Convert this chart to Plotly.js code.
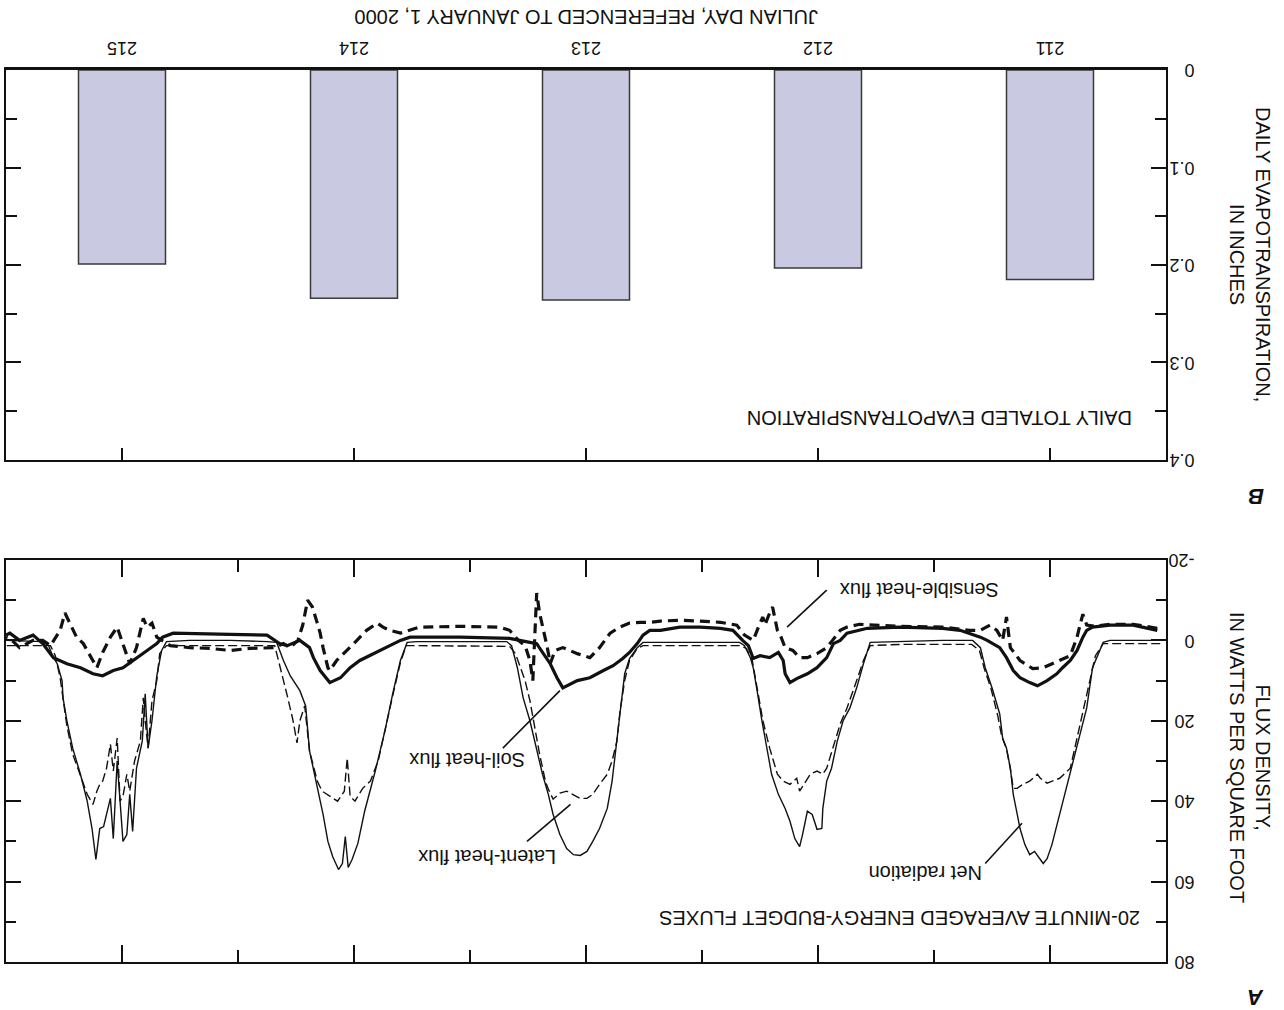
<!DOCTYPE html>
<html><head><meta charset="utf-8">
<script src="https://cdn.plot.ly/plotly-3.0.1.min.js"></script>
<style>html,body{margin:0;padding:0;background:#fff}#chart{width:1284px;height:1010px}</style>
</head><body><div id="chart"></div>
<script>
// ---- Panel B: daily totaled evapotranspiration (inches) ----
const julianDays = [211, 212, 213, 214, 215];
const dayTickText = ['211', '212', '213', '214', '215'];
const dailyET = [0.215, 0.203, 0.236, 0.234, 0.199];
const etTickVals = [0, 0.1, 0.2, 0.3, 0.4];
const etTickText = ['0', '0.1', '0.2', '0.3', '0.4'];
const etMinorVals = [0.05, 0.15, 0.25, 0.35];

// ---- Panel A: 20-minute averaged energy-budget fluxes (W/ft2), time in hours from 00:00 day 211 ----
const hourMajorTicks = [12, 36, 60, 84, 108];
const hourMinorTicks = [24, 48, 72, 96];
const fluxTickVals = [-20, 0, 20, 40, 60, 80];
const fluxTickText = ['-20', '0', '20', '40', '60', '80'];
const fluxMinorVals = [-10, 10, 30, 50, 70];

const netHours = [
  0.6, 3.7, 5.8, 6.5, 7.6, 8.2, 8.9, 9.6, 10.1, 10.7, 11.2, 11.8, 12.3, 12.7, 13.0, 13.6, 14.1, 14.6, 15.1, 15.4, 15.8, 16.1, 16.5, 16.9, 17.2, 18.0, 18.7, 19.2, 20.0, 23.1, 27.5, 30.6,
  31.3, 32.0, 32.7, 33.4, 34.0, 34.6, 35.1, 35.5, 35.6, 36.1, 36.6, 37.1, 37.6, 37.9, 38.4, 38.9, 39.4, 40.1, 40.8, 41.3, 41.8, 42.3, 42.7, 43.0, 43.6, 44.1, 48.2, 52.3, 54.1,
  54.7, 55.5, 56.0, 56.3, 56.7, 57.0, 57.3, 57.8, 58.6, 59.3, 59.9, 60.6, 61.3, 62.0, 62.7, 63.4, 63.9, 64.5, 65.1, 65.8, 66.5, 67.1, 67.7, 68.2, 73.0, 77.5,
  78.5, 79.2, 80.0, 80.8, 81.8, 82.9, 83.6, 84.2, 84.6, 84.9, 85.2, 85.6, 86.2, 86.7, 87.2, 87.8, 88.6, 89.0, 89.6, 90.6, 91.3, 92.0, 93.0, 96.8, 101.0, 103.4,
  103.9, 104.4, 104.9, 105.3, 105.6, 105.9, 106.5, 106.9, 107.2, 107.5, 107.9, 108.2, 108.5, 108.9, 109.2, 109.6, 109.9, 110.3, 110.7, 111.1, 111.6, 112.3, 113.1, 113.7, 114.1, 114.2, 114.7, 115.1, 115.6, 116.2, 118.6, 120.0
];
const netRadiation = [
  0, 0, 0, 0.5, 6.8, 16.8, 23.3, 30, 35, 40, 45, 50.8, 54.3, 55.5, 54.5, 52.5, 53.3, 50.8, 46.8, 43.3, 38.3, 31.8, 26.8, 24.3, 18.3, 11.8, 6.8, 1.8, 0, 0, 0.2, 0.5,
  5.8, 11.8, 16.8, 20, 25, 31.8, 35, 41.8, 46.8, 47, 43.3, 42.5, 48.3, 51.3, 49.3, 45, 41.8, 38.3, 33.3, 26.8, 20, 12.5, 6.8, 4.3, 1.3, 0.5, 0.5, 0.5, 0.5,
  1.8, 4.5, 8.3, 14.3, 21.8, 28.3, 35, 41.8, 46.8, 50, 52.5, 53.5, 53.3, 51.8, 48.3, 43.3, 38.3, 33.3, 26.8, 20, 14.3, 6.8, 1.3, 0.3, 0.3, 0.3,
  0.5, 5, 13.3, 22.5, 32.5, 42.5, 50.5, 54.5, 56.5, 48.8, 55.5, 57, 53.8, 50, 43.3, 36.8, 27.5, 16.3, 12.5, 8.8, 5, 0.5, 0.3, 0, 0, 0.3,
  2.5, 8.8, 20, 26.8, 13.3, 25, 31.8, 47.5, 38.3, 48.3, 50, 40, 30, 49.3, 39.3, 43.3, 46.3, 46.8, 54.5, 46.8, 40, 33.3, 26.8, 20, 14.3, 10, 5.8, 4.3, 1.3, 0.3, 0, 0
];

const latentHours = [
  0.6, 3.7, 6.5, 7.3, 8.1, 8.9, 9.4, 9.9, 11.0, 11.7, 12.3, 13.0, 13.3, 14.1, 14.8, 15.4, 15.8, 16.1, 16.5, 17.0, 17.4, 18.1, 18.8, 19.3, 20.1, 23.1, 27.5, 30.6,
  31.3, 32.0, 33.0, 33.7, 34.5, 35.1, 35.5, 36.1, 36.8, 37.9, 38.2, 38.9, 39.6, 40.2, 41.0, 41.7, 42.3, 42.8, 43.4, 44.1, 48.2, 52.3, 54.1,
  54.7, 55.5, 56.0, 56.5, 56.8, 57.3, 57.8, 58.6, 59.3, 59.9, 60.6, 61.3, 62.0, 62.7, 63.4, 63.9, 64.2, 64.8, 65.3, 65.8, 66.3, 66.8, 67.3, 67.9, 73.0, 77.5,
  78.6, 79.2, 80.0, 80.8, 81.5, 82.3, 83.1, 83.9, 84.4, 84.7, 85.0, 85.7, 86.5, 87.3, 87.8, 88.6, 89.1, 89.6, 89.9, 90.3, 90.9, 91.7, 92.2, 96.8, 101.0, 103.4,
  104.1, 104.4, 104.9, 105.3, 105.6, 105.8, 106.1, 106.7, 107.2, 107.5, 107.9, 108.2, 108.5, 108.9, 109.2, 109.6, 110.0, 110.3, 110.6, 111.0, 111.6, 112.3, 113.1, 113.7, 114.2, 114.4, 114.9, 115.4, 117.5, 120.0
];
const latentHeat = [
  0.8, 0.8, 0.8, 3.8, 12.5, 21.3, 27, 31.8, 34.3, 35, 35.5, 34.3, 33.3, 35, 35.8, 36.8, 36.8, 32, 27, 23.8, 18.8, 12, 7, 2.5, 1, 1, 1, 1.3,
  5, 10, 16.8, 20.8, 26.8, 31.8, 33.3, 32.5, 33.3, 37.5, 34.3, 35.8, 35, 33.3, 26.8, 20, 11.8, 5, 2, 1.3, 1.3, 1.3, 1.3,
  2, 5, 10, 18, 25, 30, 33.3, 35.8, 38.3, 39.3, 39.3, 38.3, 37.5, 38, 39.5, 37, 35, 28.3, 21.8, 15, 10, 6.8, 3.3, 1.5, 1.3, 1.3,
  1.3, 5.5, 13.8, 22.5, 30, 35, 36.8, 40, 38.8, 29.3, 37.5, 40, 38.8, 37.5, 35, 27.5, 16.3, 20, 25.5, 20, 13.8, 5.8, 1.3, 1.3, 1.3, 1.3,
  3.3, 10, 15, 26.8, 20, 14.3, 25, 30, 37.5, 33.3, 38.8, 40, 24.3, 32.5, 25.8, 31.8, 35, 35.8, 37.5, 40.8, 38.3, 33.8, 28.3, 21.3, 13.3, 9.3, 3.8, 1.3, 1.3, 1.3
];

const soilHours = [
  0.9, 3.4, 5.8, 7.6, 8.2, 8.6, 9.2, 9.9, 10.7, 11.3, 12.3, 13.3, 14.1, 15.1, 15.8, 16.5, 17.2, 17.9, 18.5, 19.2, 20.3, 21.3, 23.1, 27.5, 30.9,
  31.7, 33.0, 33.7, 34.4, 35.1, 36.1, 37.1, 38.2, 38.9, 39.4, 39.6, 40.1, 41.0, 42.0, 42.7, 43.2, 43.8, 44.8, 46.1, 48.2, 50.3, 52.3,
  53.4, 54.1, 54.7, 55.5, 56.2, 57.2, 58.2, 59.6, 60.9, 62.4, 63.0, 63.7, 64.5, 65.1, 65.8, 67.1, 67.9, 73.0, 78.2,
  79.2, 80.3, 81.3, 82.3, 83.4, 84.4, 85.4, 86.5, 87.5, 88.2, 88.6, 89.6, 90.3, 90.9, 91.7, 93.0, 96.8, 101.0, 102.7,
  103.8, 104.4, 105.4, 106.9, 107.9, 108.9, 110.0, 111.0, 112.3, 113.7, 115.1, 116.2, 117.2, 118.6, 119.6, 120.0
];
const soilHeat = [
  -2.5, -3.8, -3.8, -3.3, -2.5, -0.8, 2.5, 5, 6.8, 8.3, 10, 11.3, 10.5, 9.3, 7.5, 4.3, 1.8, 0.8, 0, -0.8, -1.8, -2.5, -3, -3.3, -3,
  -2.5, -1.8, 0, 0.8, 4.3, 6.8, 8.3, 9.5, 10.5, 8.3, 5, 3, 4.3, 3.8, 4.5, 1.3, 0, -2.5, -3, -3.3, -3.3, -2.5,
  -2.5, -1.3, 0.8, 3, 4.5, 6.3, 7.5, 9.3, 10, 11.8, 9.3, 5.8, 3, 0.8, 0.5, 0, -0.5, -0.8, -0.8,
  0, 1.3, 2.5, 3.8, 5, 6.8, 9.3, 10.5, 7.5, 4.3, 1.8, 0, 0.8, 1.3, 0.8, -1.3, -1.5, -1.8, -1.8,
  -0.8, 0.8, 2.5, 5, 6.8, 7.5, 8.8, 8.3, 6.8, 5.8, 4.3, 0.8, -1.3, 0, -1.8, -1.3
];

const sensibleHours = [
  0.9, 3.4, 5.8, 7.3, 8.2, 8.6, 8.9, 9.2, 9.9, 11.0, 11.7, 12.7, 13.8, 15.1, 16.1, 16.5, 16.9, 17.5, 18.2, 19.2, 20.3, 23.1, 27.5, 30.9,
  31.7, 33.0, 33.7, 34.5, 35.1, 36.1, 37.1, 37.9, 38.6, 39.4, 39.9, 40.2, 40.7, 41.0, 41.5, 41.7, 42.0, 42.7, 43.6, 44.4, 46.1, 48.2, 50.3, 52.3, 53.4,
  54.4, 55.5, 56.5, 57.5, 58.6, 59.6, 60.9, 62.4, 63.2, 63.7, 64.0, 64.4, 64.8, 65.1, 65.3, 65.5, 65.8, 66.3, 67.0, 67.9, 68.9, 73.0, 77.2, 78.2,
  79.2, 80.3, 81.0, 81.6, 82.7, 83.7, 84.7, 85.8, 86.5, 86.7, 87.2, 87.5, 87.8, 88.3, 88.8, 89.3, 89.8, 90.6, 91.3, 92.2, 94.8, 96.8, 98.9, 101.0, 103.0,
  104.4, 104.9, 105.4, 105.8, 106.5, 107.2, 107.7, 108.2, 108.5, 109.2, 110.0, 110.6, 111.3, 112.0, 112.7, 113.4, 113.9, 114.4, 115.4, 116.2, 117.2, 118.6, 119.6, 120.0
];
const sensibleHeat = [
  -3, -4, -4, -3.5, -3.8, -6.5, -3.8, -0.8, 3.8, 5, 5.8, 6.8, 7, 5, 1.8, -5.8, 0, -2.5, -3.8, -2.5, -2.5, -3.3, -3.5, -4,
  -4, -3.3, -2.5, 0, 1.8, 3.3, 4.3, 4.3, 2.5, 1.8, -1.3, -2.5, -8.3, -6.8, -3.8, -5.8, -4.3, 0, -1.3, -3.8, -4.5, -4.8, -5, -4.8, -4.5,
  -4.5, -4.3, -3.3, -1.8, 1.8, 4.3, 3.3, 1.8, 2.5, 5.8, 1.8, -2.5, -6.8, -11.8, 0, 10, 5, 1.3, 0, -2.5, -3.3, -3.5, -3.3, -2.5,
  -1.8, -2.5, -3.3, -4.3, -2.5, 0, 2.5, 5, 7.5, 6.8, 1.8, -1.8, -4.3, -8.3, -10, -3.8, 0, 1.8, 0.8, 1.8, 2, 2.5, 2, 1.8, 1.3,
  -0.8, -4.3, -3.3, -5.5, 1.8, 5.8, 2.5, -0.8, -3.3, -0.8, 3, 6.8, 3.8, 0.8, -0.8, -4.5, -6.8, -2.5, 1.3, 0, 0, 1.8, -0.5, -0.8
];

// leader lines (hours, flux) from label to curve
const leaderNet = {from: [18.7, 55.5], to: [14.9, 45.5]};
const leaderLatent = {from: [66.1, 50], to: [61.6, 40.8]};
const leaderSoil = {from: [68.6, 26.8], to: [62.7, 12.5]};
const leaderSensible = {from: [35.1, -12.5], to: [39.2, -3.3]};

const FONT = 'Liberation Sans, Arial, Helvetica, sans-serif';
const INK = '#111111';

const traces = [
  {type: 'bar', x: julianDays, y: dailyET, xaxis: 'x', yaxis: 'y', width: 0.375,
   marker: {color: 'rgb(201,201,226)', line: {color: '#3a3a3a', width: 1.5}}, hoverinfo: 'skip'},
  {type: 'scatter', mode: 'markers', x: julianDays, y: dailyET, xaxis: 'x3', yaxis: 'y',
   marker: {opacity: 0, size: 1}, hoverinfo: 'skip'},
  {type: 'scatter', mode: 'lines', name: 'Net radiation', x: netHours, y: netRadiation, xaxis: 'x2', yaxis: 'y2',
   line: {color: INK, width: 1.4}},
  {type: 'scatter', mode: 'lines', name: 'Latent-heat flux', x: latentHours, y: latentHeat, xaxis: 'x2', yaxis: 'y2',
   line: {color: INK, width: 1.4, dash: '9px,4px'}},
  {type: 'scatter', mode: 'lines', name: 'Soil-heat flux', x: soilHours, y: soilHeat, xaxis: 'x2', yaxis: 'y2',
   line: {color: INK, width: 3.2}},
  {type: 'scatter', mode: 'lines', name: 'Sensible-heat flux', x: sensibleHours, y: sensibleHeat, xaxis: 'x2', yaxis: 'y2',
   line: {color: INK, width: 3.2, dash: '10px,6px'}}
];

const tickFont = {family: FONT, size: 18, color: INK};
const txt = (text, x, y, size, extra) => Object.assign({
  text, x, y, xref: 'paper', yref: 'paper', showarrow: false, textangle: 180,
  xanchor: 'center', yanchor: 'middle', font: {family: FONT, size: size, color: INK}
}, extra || {});

const leader = (l) => ({type: 'line', xref: 'x2', yref: 'y2', x0: l.from[0], y0: l.from[1], x1: l.to[0], y1: l.to[1],
  line: {color: INK, width: 1.6}});

const layout = {
  width: 1284, height: 1010,
  margin: {l: 6, r: 118, t: 70, b: 48, pad: 0},
  paper_bgcolor: '#ffffff', plot_bgcolor: '#ffffff',
  showlegend: false,
  font: {family: FONT, color: INK},
  xaxis: {domain: [0, 1], anchor: 'y', range: [215.5, 210.5], tickmode: 'array', tickvals: julianDays,
    showticklabels: false, ticks: 'inside', ticklen: 12, tickwidth: 2, tickcolor: INK,
    showline: true, linecolor: INK, linewidth: 2, showgrid: false, zeroline: false, fixedrange: true},
  xaxis3: {overlaying: 'x', anchor: 'y', side: 'top', range: [215.5, 210.5], tickmode: 'array', tickvals: julianDays,
    ticktext: dayTickText, tickangle: 180, ticks: '',
    showline: true, linecolor: INK, linewidth: 3, showgrid: false, zeroline: false, tickfont: tickFont, fixedrange: true},
  yaxis: {domain: [0.5628, 1], anchor: 'x', range: [0.4, 0], side: 'right', tickmode: 'array',
    tickvals: etTickVals, ticktext: etTickText, tickangle: 180, ticks: 'inside', ticklen: 15, tickwidth: 2, tickcolor: INK,
    ticklabelstandoff: 23, ticklabelshift: -6,
    minor: {tickmode: 'array', tickvals: etMinorVals, ticks: 'inside', ticklen: 11, tickwidth: 2, tickcolor: INK},
    mirror: 'ticks', showline: true, linecolor: INK, linewidth: 2, showgrid: false, zeroline: false,
    tickfont: tickFont, fixedrange: true},
  xaxis2: {domain: [0, 1], anchor: 'y2', range: [120, 0], tickmode: 'array', tickvals: hourMajorTicks,
    showticklabels: false, ticks: 'inside', ticklen: 17, tickwidth: 2, tickcolor: INK,
    minor: {tickmode: 'array', tickvals: hourMinorTicks, ticks: 'inside', ticklen: 12, tickwidth: 2, tickcolor: INK},
    mirror: 'ticks', showline: true, linecolor: INK, linewidth: 2, showgrid: false, zeroline: false, fixedrange: true},
  yaxis2: {domain: [0, 0.4507], anchor: 'x2', range: [80, -20], side: 'right', tickmode: 'array',
    tickvals: fluxTickVals, ticktext: fluxTickText, tickangle: 180, ticks: 'inside', ticklen: 15, tickwidth: 2, tickcolor: INK,
    ticklabelstandoff: 23, ticklabelshift: -6,
    minor: {tickmode: 'array', tickvals: fluxMinorVals, ticks: 'inside', ticklen: 10, tickwidth: 2, tickcolor: INK},
    mirror: 'ticks', showline: true, linecolor: INK, linewidth: 2, showgrid: false, zeroline: false,
    tickfont: tickFont, fixedrange: true},
  shapes: [leader(leaderNet), leader(leaderLatent), leader(leaderSoil), leader(leaderSensible)],
  annotations: [
    txt('JULIAN DAY, REFERENCED TO JANUARY 1, 2000', 0.5, 1.0594, 20),
    txt('DAILY EVAPOTRANSPIRATION,<br>IN INCHES', 1.0724, 0.7926, 20, {textangle: 90}),
    txt('<b><i>B</i></b>', 1.0776, 0.5213, 22),
    txt('DAILY TOTALED EVAPOTRANSPIRATION', 0.8043, 0.6099, 20),
    txt('FLUX DENSITY,<br>IN WATTS PER SQUARE FOOT', 1.0724, 0.2287, 20, {textangle: 90}),
    txt('<b><i>A</i></b>', 1.0776, -0.0392, 22),
    txt('20-MINUTE AVERAGED ENERGY-BUDGET FLUXES', 0.7707, 0.0493, 20),
    txt('Net radiation', 0.7922, 0.0998, 20),
    txt('Latent-heat flux', 0.4147, 0.1177, 20),
    txt('Soil-heat flux', 0.3974, 0.2265, 20),
    txt('Sensible-heat flux', 0.787, 0.417, 20)
  ]
};

Plotly.newPlot('chart', traces, layout, {displayModeBar: false, staticPlot: true});
</script>
</body></html>
